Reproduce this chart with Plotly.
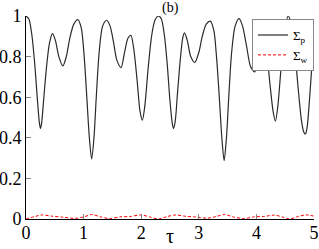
import plotly.graph_objects as go

# Sigma_p (black solid)
tau_p = [0.00, 0.05, 0.10, 0.15, 0.20, 0.23, 0.25, 0.27, 0.31, 0.36, 0.41, 0.46, 0.51, 0.57, 0.64,
         0.70, 0.76, 0.83, 0.90, 0.96, 1.01, 1.06, 1.10, 1.14, 1.18, 1.22, 1.27, 1.33, 1.40,
         1.46, 1.52, 1.58, 1.65, 1.71, 1.77, 1.82, 1.87, 1.93, 1.98, 2.02, 2.06, 2.12, 2.18,
         2.24, 2.30, 2.35, 2.40, 2.45, 2.50, 2.54, 2.56, 2.59, 2.63, 2.68, 2.72, 2.75, 2.80,
         2.86, 2.93, 3.00, 3.06, 3.13, 3.20, 3.26, 3.31, 3.36, 3.40, 3.44, 3.48, 3.52, 3.57,
         3.63, 3.70, 3.76, 3.83, 3.90, 3.97, 4.03, 4.08, 4.12, 4.17, 4.23, 4.29, 4.33, 4.37,
         4.43, 4.49, 4.55, 4.60, 4.66, 4.72, 4.78, 4.82, 4.85, 4.88, 4.93, 4.97, 5.00]
sigma_p = [1.000, 0.985, 0.910, 0.770, 0.580, 0.480, 0.446, 0.470, 0.600, 0.760, 0.870, 0.913, 0.880, 0.800, 0.754,
           0.800, 0.890, 0.960, 0.982, 0.940, 0.800, 0.580, 0.400, 0.295, 0.400, 0.600, 0.820, 0.950, 0.979,
           0.950, 0.870, 0.780, 0.746, 0.820, 0.890, 0.905, 0.840, 0.680, 0.530, 0.487, 0.550, 0.740, 0.900,
           0.980, 1.000, 0.985, 0.910, 0.770, 0.580, 0.470, 0.446, 0.480, 0.620, 0.790, 0.890, 0.917, 0.880,
           0.800, 0.771, 0.820, 0.900, 0.960, 0.975, 0.930, 0.790, 0.580, 0.400, 0.287, 0.400, 0.600, 0.820,
           0.950, 0.987, 0.950, 0.850, 0.750, 0.725, 0.800, 0.890, 0.910, 0.850, 0.680, 0.530, 0.482, 0.550,
           0.750, 0.920, 1.000, 0.970, 0.850, 0.660, 0.490, 0.430, 0.418, 0.450, 0.620, 0.780, 0.880]

# Sigma_w (red dashed)
tau_w = [0.0, 0.15, 0.28, 0.45, 0.64, 0.85, 1.0, 1.14, 1.3, 1.45, 1.65, 1.8, 2.0, 2.15, 2.3, 2.45,
         2.6, 2.78, 2.95, 3.15, 3.3, 3.45, 3.6, 3.78, 3.97, 4.12, 4.32, 4.45, 4.58, 4.72, 4.86, 5.0]
sigma_w = [0.0, 0.012, 0.020, 0.014, 0.009, 0.003, 0.010, 0.022, 0.010, 0.002, 0.011, 0.012, 0.020, 0.010, 0.0, 0.012,
           0.020, 0.013, 0.010, 0.004, 0.012, 0.022, 0.010, 0.002, 0.011, 0.012, 0.019, 0.010, 0.0, 0.012, 0.020, 0.014]

x_ticks = [0, 1, 2, 3, 4, 5]
x_labels = ["0", "1", "2", "3", "4", "5"]
y_ticks = [0, 0.2, 0.4, 0.6, 0.8, 1]
y_labels = ["0", "0.2", "0.4", "0.6", "0.8", "1"]
x_title = "τ"
panel_label = "(b)"

SERIF = "Liberation Serif, Times New Roman, serif"
TICKFONT = dict(family=SERIF, size=18, color="black")

fig = go.Figure()
fig.add_trace(go.Scatter(x=tau_p, y=sigma_p, mode="lines", name="Σ<sub>p</sub>",
                         line=dict(color="#2a2a2a", width=1.2, shape="spline", smoothing=0.8)))
fig.add_trace(go.Scatter(x=tau_w, y=sigma_w, mode="lines", name="Σ<sub>w</sub>",
                         line=dict(color="#ff0000", width=1, dash="3px,2px", shape="spline", smoothing=0.8)))

fig.update_layout(
    width=319, height=249, autosize=False,
    margin=dict(l=26, r=5, t=16, b=30, autoexpand=False),
    paper_bgcolor="white", plot_bgcolor="white",
    font=dict(family=SERIF, size=17, color="black"),
    showlegend=True,
    legend=dict(x=1, xanchor="right", y=0.985, yanchor="top",
                bgcolor="white", bordercolor="#888888", borderwidth=1,
                font=dict(family=SERIF, size=13, color="black"),
                itemwidth=30, tracegroupgap=0),
    xaxis=dict(range=[0, 5], tickvals=x_ticks, ticktext=x_labels, tickfont=TICKFONT,
               ticks="inside", ticklen=5, tickcolor="#888888", ticklabelstandoff=-3,
               showline=True, linecolor="black", linewidth=1,
               showgrid=False, zeroline=False, automargin=False),
    yaxis=dict(range=[0, 1], tickvals=y_ticks, ticktext=y_labels, tickfont=TICKFONT,
               ticks="inside", ticklen=5, tickcolor="#888888",
               showline=True, linecolor="black", linewidth=1,
               showgrid=False, zeroline=False, automargin=False),
    xaxis2=dict(range=[0, 5], overlaying="x", side="top", anchor="y",
                tickvals=x_ticks, showticklabels=False, automargin=False,
                ticks="inside", ticklen=5, tickcolor="#888888",
                showline=True, linecolor="#999999", linewidth=2,
                showgrid=False, zeroline=False),
    yaxis2=dict(range=[0, 1], overlaying="y", side="right", anchor="x",
                tickvals=y_ticks, showticklabels=False, automargin=False,
                ticks="inside", ticklen=5, tickcolor="#888888",
                showline=True, linecolor="#999999", linewidth=2,
                showgrid=False, zeroline=False),
    annotations=[
        dict(text=panel_label, x=0.5, y=1, xref="paper", yref="paper",
             xanchor="center", yanchor="bottom", yshift=-2, showarrow=False,
             font=dict(family=SERIF, size=14, color="black")),
        dict(text=x_title, x=0.5, y=-0.147, xref="paper", yref="paper",
             xanchor="center", yanchor="bottom", showarrow=False,
             font=dict(family=SERIF, size=20, color="black")),
    ],
)

fig.write_html("out.html", config={"displayModeBar": False},
               post_script="document.body.style.margin='0';document.body.style.overflow='hidden';")
